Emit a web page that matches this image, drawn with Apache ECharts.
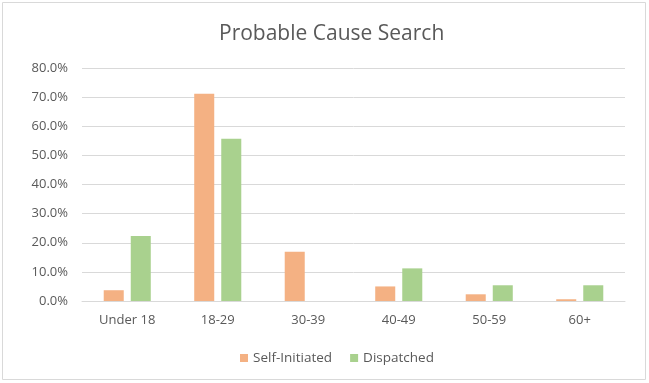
<!DOCTYPE html>
<html><head><meta charset="utf-8">
<script src="https://cdn.jsdelivr.net/npm/echarts@6/dist/echarts.min.js"></script>
<style>html,body{margin:0;padding:0;background:#fff}#c{width:649px;height:383px}</style>
</head><body><div id="c"></div>
<script>
const categories = ['Under 18','18-29','30-39','40-49','50-59','60+'];
const selfInitiated = [3.7, 71.2, 16.9, 5.0, 2.3, 0.6];
const dispatched = [22.3, 55.7, 0, 11.2, 5.4, 5.4];
const seriesNames = ['Self-Initiated','Dispatched'];
const colors = ['#F4B183','#A9D18E'];
const font = 'Open Sans, Liberation Sans, sans-serif';
const chart = echarts.init(document.getElementById('c'));
chart.setOption({
  animation:false,
  graphic:[{type:'rect',shape:{x:2.5,y:2.5,width:643,height:377},style:{fill:'none',stroke:'#D9D9D9',lineWidth:1}}],
  title:{text:'Probable Cause Search',left:214,top:19,textStyle:{fontFamily:font,fontSize:21,fontWeight:'normal',color:'#595959'}},
  legend:{top:346,left:235,itemWidth:8,itemHeight:8,itemGap:18,icon:'rect',textStyle:{fontFamily:font,fontSize:13.5,color:'#595959'},data:seriesNames},
  grid:{left:82,right:24,top:68,bottom:82,containLabel:false},
  xAxis:{type:'category',data:categories,axisTick:{show:false},axisLine:{lineStyle:{color:'#D9D9D9'}},axisLabel:{fontFamily:font,fontSize:13,color:'#595959',margin:13}},
  yAxis:{type:'value',min:0,max:80,interval:10,axisLabel:{formatter:v=>v.toFixed(1)+'%',fontFamily:font,fontSize:13,color:'#595959',margin:14},splitLine:{lineStyle:{color:'#D9D9D9'}},axisLine:{show:false},axisTick:{show:false}},
  series:[
    {name:seriesNames[0],type:'bar',data:selfInitiated,itemStyle:{color:colors[0]},barGap:'35%',barCategoryGap:'48%'},
    {name:seriesNames[1],type:'bar',data:dispatched,itemStyle:{color:colors[1]},barGap:'35%',barCategoryGap:'48%'}
  ]
});
</script></body></html>
